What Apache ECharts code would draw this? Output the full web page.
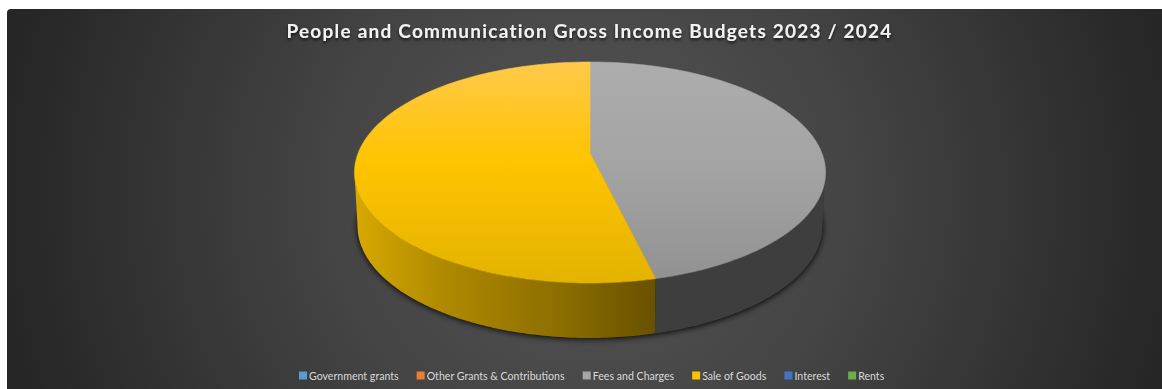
<!DOCTYPE html>
<html>
<head>
<meta charset="utf-8">
<style>
  html, body { margin: 0; padding: 0; background: #fff; }
  #chart { width: 1162px; height: 389px; }
  /* The title is the only bold text in the chart; it is set with open tracking. */
  #chart text[style*="bold"] { letter-spacing: 1.23px; }
</style>
<script src="https://cdn.jsdelivr.net/npm/echarts@6/dist/echarts.min.js"></script>
</head>
<body>
<div id="chart"></div>
<script>
// Income categories and their share of the budget (percent).
const categories = ['Government grants', 'Other Grants & Contributions', 'Fees and Charges', 'Sale of Goods', 'Interest', 'Rents'];
const budgetShare = [0, 0, 45.5, 54.5, 0, 0];
const legendColors = ['#5B9BD5', '#ED7D31', '#A5A5A5', '#FFC000', '#4472C4', '#70AD47'];
const titleText = 'People and Communication Gross Income Budgets 2023 / 2024';

// Projection of the tilted disc.
const topDisc = { cx: 590, cy: 172.5, rx: 235.5, ry: 110.5, apexY: 153 };
const baseDisc = { cx: 590, cy: 226, rx: 232.5, ry: 112 };

const { LinearGradient, RadialGradient } = echarts.graphic;
const v = (y0, y1, stops) => new LinearGradient(0, y0, 0, y1, stops, true);
const h = (x0, x1, stops) => new LinearGradient(x0, 0, x1, 0, stops, true);

const topFill = {
  'Fees and Charges': v(62, 283, [
    { offset: 0, color: '#ADADAD' }, { offset: 0.5, color: '#A3A3A3' }, { offset: 1, color: '#919191' }
  ]),
  'Sale of Goods': v(62, 283, [
    { offset: 0, color: '#FFC94A' }, { offset: 0.45, color: '#FFC400' }, { offset: 1, color: '#E3B300' }
  ])
};
const wallFill = {
  'Fees and Charges': '#3E3E3E',
  'Sale of Goods': h(356, 656, [
    { offset: 0, color: '#D6A800' }, { offset: 0.3, color: '#AE8900' },
    { offset: 0.65, color: '#8F7000' }, { offset: 1, color: '#685100' }
  ])
};

const total = budgetShare.reduce((a, b) => a + b, 0);
const startDeg = budgetShare.map((_, i) =>
  budgetShare.slice(0, i).reduce((a, b) => a + b, 0) / total * 360);

// Angle is measured clockwise from twelve o'clock.
const rim = (d, deg) => {
  const t = deg * Math.PI / 180;
  return [d.cx + d.rx * Math.sin(t), d.cy - d.ry * Math.cos(t)];
};
const arc = (d, from, to) => {
  const pts = [];
  const n = Math.max(2, Math.ceil(Math.abs(to - from)));
  for (let i = 0; i <= n; i++) pts.push(rim(d, from + (to - from) * i / n));
  return pts;
};

function renderSlice(params) {
  const i = params.seriesIndex - 1;
  const value = budgetShare[i];
  if (!value) return { type: 'group', children: [] };
  const a0 = startDeg[i];
  const a1 = a0 + value / total * 360;
  const children = [];

  // Only the front half of the disc shows its wall.
  const w0 = Math.max(a0, 90);
  const w1 = Math.min(a1, 270);
  if (w1 > w0) {
    children.push({
      type: 'polygon',
      shape: { points: arc(topDisc, w0, w1).concat(arc(baseDisc, w1, w0)) },
      style: { fill: wallFill[categories[i]] }
    });
  }
  // A hairline in the face colour closes the seam against the wall.
  children.push({
    type: 'polygon',
    shape: { points: [[topDisc.cx, topDisc.apexY]].concat(arc(topDisc, a0, a1)) },
    style: { fill: topFill[categories[i]], stroke: topFill[categories[i]], lineWidth: 0.6 }
  });
  return { type: 'group', children };
}

const sliceSeries = categories.map((name, i) => ({
  type: 'custom',
  name,
  z: 3,
  coordinateSystem: 'none',
  itemStyle: { color: legendColors[i] },
  data: [[budgetShare[i]]],
  renderItem: renderSlice
}));

// Soft contact shadow under the disc.
const shadowSeries = {
  type: 'custom',
  name: 'Disc shadow',
  z: 2,
  silent: true,
  coordinateSystem: 'none',
  data: [[total]],
  renderItem: () => ({
    type: 'polygon',
    shape: { points: arc(baseDisc, 0, 360) },
    style: {
      fill: '#111',
      shadowColor: 'rgba(0,0,0,0.9)',
      shadowBlur: 6,
      shadowOffsetY: 1
    }
  })
};

const chart = echarts.init(document.getElementById('chart'), null, { renderer: 'svg' });
chart.setOption({
  animation: false,
  graphic: [{
    type: 'rect',
    z: -10,
    shape: { x: 7, y: 9, width: 1155, height: 380, r: [4, 0, 0, 0] },
    style: {
      fill: new RadialGradient(590, 195, 590, [
        { offset: 0, color: '#555555' },
        { offset: 0.45, color: '#444444' },
        { offset: 1, color: '#262626' }
      ], true)
    }
  }],
  title: {
    text: titleText,
    left: 584.5,
    top: 16,
    textAlign: 'center',
    textStyle: {
      fontFamily: 'Lato',
      fontWeight: 'bold',
      fontSize: 19,
      color: '#F2F2F2',
      textShadowColor: 'rgba(0,0,0,0.7)',
      textShadowBlur: 3,
      textShadowOffsetY: 2
    }
  },
  legend: {
    data: categories,
    left: 299,
    top: 370,
    padding: 0,
    icon: 'rect',
    itemWidth: 8,
    itemHeight: 8,
    itemGap: 18,
    textStyle: { fontFamily: 'Lato', fontSize: 10.6, color: '#D9D9D9', padding: [0, 0, 0, -3] }
  },
  series: [shadowSeries].concat(sliceSeries)
});
</script>
</body>
</html>
